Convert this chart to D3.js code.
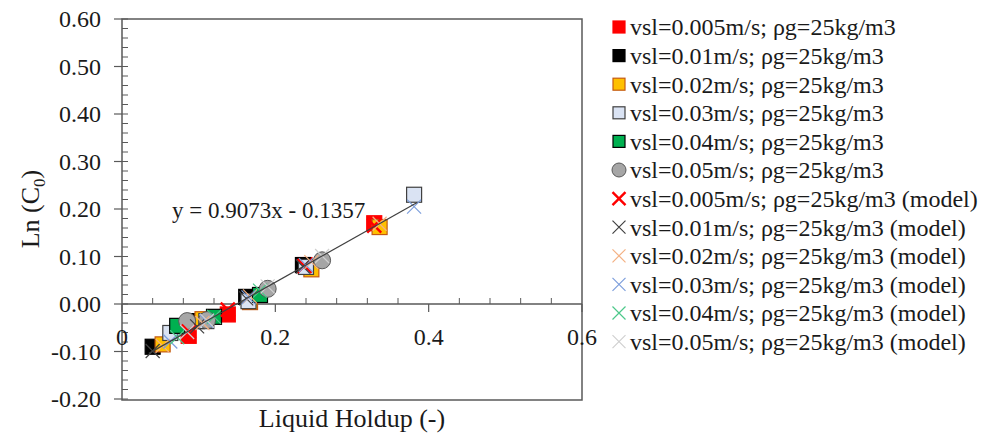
<!DOCTYPE html>
<html><head><meta charset="utf-8">
<script src="https://cdn.jsdelivr.net/npm/d3@7"></script>
<style>body{margin:0;background:#fff}svg{display:block;font-family:"Liberation Serif","Times New Roman",serif}</style>
</head><body><svg id="c" width="982" height="438"></svg>
<script>
// ---- data ----
const seriesNames = ["vsl=0.005m/s; ρg=25kg/m3","vsl=0.01m/s; ρg=25kg/m3","vsl=0.02m/s; ρg=25kg/m3","vsl=0.03m/s; ρg=25kg/m3","vsl=0.04m/s; ρg=25kg/m3","vsl=0.05m/s; ρg=25kg/m3"];
const modelNames = seriesNames.map(n => n + " (model)");
const holdup005 = [0.087, 0.138, 0.238, 0.329];
const lnC005    = [-0.067, -0.022, 0.082, 0.170];
const holdup01  = [0.040, 0.098, 0.162, 0.236];
const lnC01     = [-0.090, -0.036, 0.015, 0.082];
const holdup02  = [0.053, 0.105, 0.167, 0.247, 0.336];
const lnC02     = [-0.085, -0.032, 0.004, 0.073, 0.162];
const holdup03  = [0.063, 0.110, 0.165, 0.240, 0.381];
const lnC03     = [-0.061, -0.036, 0.006, 0.078, 0.230];
const holdup04  = [0.072, 0.120, 0.180];
const lnC04     = [-0.046, -0.027, 0.019];
const holdup05  = [0.085, 0.111, 0.190, 0.261];
const lnC05     = [-0.036, -0.034, 0.032, 0.092];
const model005  = [-0.058, -0.012, 0.080, 0.165];
const model01   = [-0.099, -0.047, 0.012, 0.079];
const model02   = [-0.088, -0.040, 0.016, 0.088, 0.169];
const model03   = [-0.079, -0.036, 0.014, 0.082, 0.205];
const model04   = [-0.070, -0.027, 0.028];
const model05   = [-0.059, -0.035, 0.037, 0.101];
const trendSlope = 0.9073, trendIntercept = -0.1357, trendRange = [0.035, 0.385];
const xTickVals = [0, 0.2, 0.4, 0.6];
const xTickLabels = ["0", "0.2", "0.4", "0.6"];
const yTickVals = [-0.2, -0.1, 0, 0.1, 0.2, 0.3, 0.4, 0.5, 0.6];
const yTickLabels = ["-0.20","-0.10","0.00","0.10","0.20","0.30","0.40","0.50","0.60"];

const expX = [holdup005, holdup01, holdup02, holdup03, holdup04, holdup05];
const expY = [lnC005, lnC01, lnC02, lnC03, lnC04, lnC05];
const modY = [model005, model01, model02, model03, model04, model05];

// ---- styles ----
const fills   = ["#FF0000", "#000000", "#FFC000", "#DAE3F3", "#00B050", "#A6A6A6"];
const strokes = ["#FF0000", "#000000", "#C55A11", "#404040", "#000000", "#595959"];
const xCols   = ["#FF0000", "#404040", "#F4B183", "#7E9FDC", "#4CC88A", "#D0D0D0"];
const xWidths = [2.4, 1.2, 1.2, 1.2, 1.2, 1.2];
const txtCol = "#1a1a1a";

const svg = d3.select("#c");
const L = 122, R = 582, T = 19, B = 399;
const x = d3.scaleLinear().domain([0, 0.6]).range([L, R]);
const y = d3.scaleLinear().domain([-0.2, 0.6]).range([B, T]);
const axisCol = "#595959";

// frame
svg.append("rect").attr("x", L).attr("y", T).attr("width", R - L).attr("height", B - T + 1)
  .attr("fill", "none").attr("stroke", axisCol).attr("stroke-width", 1.5);

// y axis minor ticks (inside)
const yMinor = d3.range(-0.2, 0.6001, 0.02);
svg.append("g").selectAll("line").data(yMinor).join("line")
  .attr("x1", L).attr("x2", L + 6).attr("y1", d => y(d)).attr("y2", d => y(d))
  .attr("stroke", axisCol).attr("stroke-width", 1);
// y axis major ticks (outside)
svg.append("g").selectAll("line").data(yTickVals).join("line")
  .attr("x1", L - 8).attr("x2", L).attr("y1", d => y(d)).attr("y2", d => y(d))
  .attr("stroke", axisCol).attr("stroke-width", 1.2);
svg.append("g").selectAll("text").data(yTickVals).join("text")
  .attr("x", L - 21).attr("y", d => y(d)).attr("dy", "0.35em").attr("text-anchor", "end")
  .attr("font-size", 24).attr("fill", txtCol).text((d, i) => yTickLabels[i]);

// x axis at y=0
const y0 = y(0);
svg.append("line").attr("x1", L).attr("x2", R).attr("y1", y0).attr("y2", y0)
  .attr("stroke", axisCol).attr("stroke-width", 1.5);
const xMinor = d3.range(0.04, 0.6, 0.04).filter(v => Math.abs(v / 0.2 - Math.round(v / 0.2)) > 1e-6);
svg.append("g").selectAll("line").data(xMinor).join("line")
  .attr("x1", d => x(d)).attr("x2", d => x(d)).attr("y1", y0 - 6).attr("y2", y0)
  .attr("stroke", axisCol).attr("stroke-width", 1);
svg.append("g").selectAll("line").data(xTickVals).join("line")
  .attr("x1", d => x(d)).attr("x2", d => x(d)).attr("y1", y0).attr("y2", y0 + 8)
  .attr("stroke", axisCol).attr("stroke-width", 1.2);
svg.append("g").selectAll("text").data(xTickVals).join("text")
  .attr("x", d => x(d)).attr("y", y0 + 41).attr("text-anchor", "middle")
  .attr("font-size", 24).attr("fill", txtCol).text((d, i) => xTickLabels[i]);

// axis titles
svg.append("text").attr("x", (L + R) / 2).attr("y", 427).attr("text-anchor", "middle")
  .attr("font-size", 26).attr("fill", txtCol).text("Liquid Holdup (-)");
const yt = svg.append("text").attr("transform", `translate(39,${(T + B) / 2}) rotate(-90)`)
  .attr("text-anchor", "middle").attr("font-size", 26).attr("fill", txtCol);
yt.append("tspan").text("Ln (C");
yt.append("tspan").attr("font-size", 17).attr("dy", 6).text("0");
yt.append("tspan").attr("dy", -6).text(")");

// markers
function drawMarker(g, i, cx, cy, s) {
  if (i === 5) {
    g.append("circle").attr("cx", cx).attr("cy", cy).attr("r", s / 2 + 1)
      .attr("fill", fills[i]).attr("stroke", strokes[i]).attr("stroke-width", 1);
  } else {
    g.append("rect").attr("x", cx - s / 2).attr("y", cy - s / 2).attr("width", s).attr("height", s)
      .attr("fill", fills[i]).attr("stroke", strokes[i]).attr("stroke-width", 1.2);
  }
}
function drawX(g, i, cx, cy, s) {
  const h = s / 2;
  g.append("path").attr("d", `M${cx - h},${cy - h}L${cx + h},${cy + h}M${cx - h},${cy + h}L${cx + h},${cy - h}`)
    .attr("stroke", xCols[i]).attr("stroke-width", xWidths[i]).attr("fill", "none");
}
const gPts = svg.append("g");
expX.forEach((xs, i) => xs.forEach((v, j) => drawMarker(gPts, i, x(v), y(expY[i][j]), 15)));
const gMod = svg.append("g");
expX.forEach((xs, i) => xs.forEach((v, j) => drawX(gMod, i, x(v), y(modY[i][j]), 14)));

// trendline
svg.append("line")
  .attr("x1", x(trendRange[0])).attr("y1", y(trendSlope * trendRange[0] + trendIntercept))
  .attr("x2", x(trendRange[1])).attr("y2", y(trendSlope * trendRange[1] + trendIntercept))
  .attr("stroke", "#404040").attr("stroke-width", 1.2);
svg.append("text").attr("x", 172).attr("y", 218).attr("font-size", 23).attr("fill", txtCol)
  .text("y = 0.9073x - 0.1357");

// legend
const lg = svg.append("g");
const allNames = seriesNames.concat(modelNames);
allNames.forEach((n, k) => {
  const cy = 27 + k * 28.6;
  if (k < 6) drawMarker(lg, k, 619, cy, 12);
  else drawX(lg, k - 6, 619, cy, 13);
  lg.append("text").attr("x", 630).attr("y", cy).attr("dy", "0.35em")
    .attr("font-size", 24).attr("fill", txtCol).text(n);
});
</script></body></html>
